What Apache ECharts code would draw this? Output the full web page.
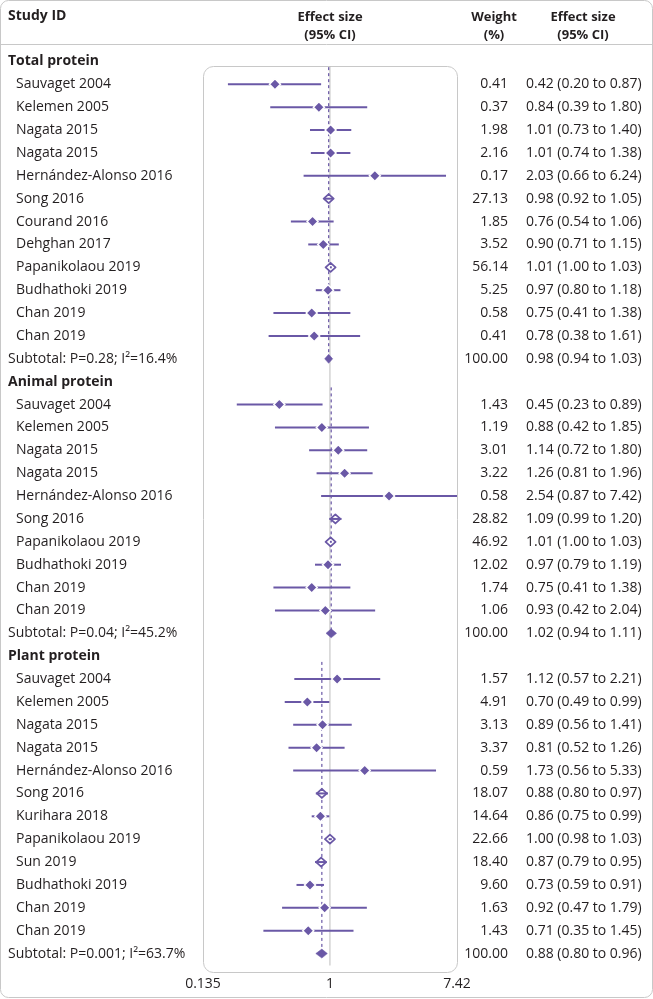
<!DOCTYPE html>
<html>
<head>
<meta charset="utf-8">
<title>Forest plot</title>
<script src="https://cdn.jsdelivr.net/npm/echarts@6/dist/echarts.min.js"></script>
<style>html,body{margin:0;padding:0;background:#fff}</style>
</head>
<body>
<div id="main" style="width:653px;height:999px;"></div>
<script>
// section titles
var sectionTitles = ['Total protein', 'Animal protein', 'Plant protein'];

// total protein
var totalStudies = ['Sauvaget 2004', 'Kelemen 2005', 'Nagata 2015', 'Nagata 2015', 'Hernández-Alonso 2016', 'Song 2016',
  'Courand 2016', 'Dehghan 2017', 'Papanikolaou 2019', 'Budhathoki 2019', 'Chan 2019', 'Chan 2019'];
var totalWeight = [0.41, 0.37, 1.98, 2.16, 0.17, 27.13, 1.85, 3.52, 56.14, 5.25, 0.58, 0.41];
var totalEst = [0.42, 0.84, 1.01, 1.01, 2.03, 0.98, 0.76, 0.90, 1.01, 0.97, 0.75, 0.78];
var totalLow = [0.20, 0.39, 0.73, 0.74, 0.66, 0.92, 0.54, 0.71, 1.00, 0.80, 0.41, 0.38];
var totalHigh = [0.87, 1.80, 1.40, 1.38, 6.24, 1.05, 1.06, 1.15, 1.03, 1.18, 1.38, 1.61];

// animal protein
var animalStudies = ['Sauvaget 2004', 'Kelemen 2005', 'Nagata 2015', 'Nagata 2015', 'Hernández-Alonso 2016', 'Song 2016',
  'Papanikolaou 2019', 'Budhathoki 2019', 'Chan 2019', 'Chan 2019'];
var animalWeight = [1.43, 1.19, 3.01, 3.22, 0.58, 28.82, 46.92, 12.02, 1.74, 1.06];
var animalEst = [0.45, 0.88, 1.14, 1.26, 2.54, 1.09, 1.01, 0.97, 0.75, 0.93];
var animalLow = [0.23, 0.42, 0.72, 0.81, 0.87, 0.99, 1.00, 0.79, 0.41, 0.42];
var animalHigh = [0.89, 1.85, 1.80, 1.96, 7.42, 1.20, 1.03, 1.19, 1.38, 2.04];

// plant protein
var plantStudies = ['Sauvaget 2004', 'Kelemen 2005', 'Nagata 2015', 'Nagata 2015', 'Hernández-Alonso 2016', 'Song 2016',
  'Kurihara 2018', 'Papanikolaou 2019', 'Sun 2019', 'Budhathoki 2019', 'Chan 2019', 'Chan 2019'];
var plantWeight = [1.57, 4.91, 3.13, 3.37, 0.59, 18.07, 14.64, 22.66, 18.40, 9.60, 1.63, 1.43];
var plantEst = [1.12, 0.70, 0.89, 0.81, 1.73, 0.88, 0.86, 1.00, 0.87, 0.73, 0.92, 0.71];
var plantLow = [0.57, 0.49, 0.56, 0.52, 0.56, 0.80, 0.75, 0.98, 0.79, 0.59, 0.47, 0.35];
var plantHigh = [2.21, 0.99, 1.41, 1.26, 5.33, 0.97, 0.99, 1.03, 0.95, 0.91, 1.79, 1.45];

// subtotals
var subtotalLabels = ['Subtotal: P=0.28; I²=16.4%', 'Subtotal: P=0.04; I²=45.2%', 'Subtotal: P=0.001; I²=63.7%'];
var subtotalWeight = [100, 100, 100];
var subtotalEst = [0.98, 1.02, 0.88];
var subtotalLow = [0.94, 0.94, 0.80];
var subtotalHigh = [1.03, 1.11, 0.96];

// x axis ticks
var tickValues = [0.135, 1, 7.42];
var tickLabels = ['0.135', '1', '7.42'];

var PURPLE = '#6a58a6';
var FONT = '"Open Sans", sans-serif';
var TXT = '#231f20';
var BODY = '14px ' + FONT;

var sections = [
  [totalStudies, totalWeight, totalEst, totalLow, totalHigh],
  [animalStudies, animalWeight, animalEst, animalLow, animalHigh],
  [plantStudies, plantWeight, plantEst, plantLow, plantHigh]
];

// flatten into rows
var rows = [];
var dashData = [];
sections.forEach(function (s, k) {
  var headRow = rows.length;
  rows.push({ type: 'head', label: sectionTitles[k] });
  s[0].forEach(function (name, i) {
    rows.push({ type: 'study', label: name, w: s[1][i], est: s[2][i], lo: s[3][i], hi: s[4][i] });
  });
  rows.push({ type: 'sub', label: subtotalLabels[k], w: subtotalWeight[k], est: subtotalEst[k], lo: subtotalLow[k], hi: subtotalHigh[k] });
  dashData.push([subtotalEst[k], headRow + 0.25, rows.length - 1]);
});
var nRows = rows.length;

function fmt(v) { return v.toFixed(2); }

var markData = rows.map(function (r, i) {
  return r.type === 'head' ? [1, i, 1, 1] : [r.est, i, r.lo, r.hi];
});

var chart = echarts.init(document.getElementById('main'));

chart.setOption({
  animation: false,
  graphic: [
    { type: 'rect', shape: { x: 0.5, y: 0.5, width: 652, height: 997, r: 8 },
      style: { fill: 'none', stroke: '#c8c8c8', lineWidth: 1 }, z: 0 },
    { type: 'line', shape: { x1: 0, y1: 44.5, x2: 653, y2: 44.5 }, style: { stroke: '#c8c8c8', lineWidth: 1 } },
    { type: 'rect', shape: { x: 203.5, y: 66.5, width: 254, height: 906, r: 10 },
      style: { fill: 'none', stroke: '#c8c8c8', lineWidth: 1 } },
    { type: 'text', x: 8, y: 9, style: { text: 'Study ID', font: 'bold 14px ' + FONT, fill: TXT } },
    { type: 'text', x: 330, y: 8, style: { text: 'Effect size\n(95% CI)', font: 'bold 13px ' + FONT, fill: TXT, align: 'center', lineHeight: 18 } },
    { type: 'text', x: 494, y: 8, style: { text: 'Weight\n(%)', font: 'bold 13px ' + FONT, fill: TXT, align: 'center', lineHeight: 18 } },
    { type: 'text', x: 583, y: 8, style: { text: 'Effect size\n(95% CI)', font: 'bold 13px ' + FONT, fill: TXT, align: 'center', lineHeight: 18 } }
  ],
  grid: { left: 203, width: 254, top: 50, height: 915 },
  xAxis: {
    type: 'log', logBase: Math.E, min: 0.135, max: 7.42,
    axisLine: { show: false }, axisTick: { show: false }, axisLabel: { show: false }, splitLine: { show: false }
  },
  yAxis: {
    type: 'value', min: -0.5, max: nRows - 0.5, inverse: true, show: false
  },
  series: [
    {
      // line of no effect
      type: 'line', symbol: 'none', silent: true, z: 1,
      lineStyle: { color: '#bdbdbd', width: 1 },
      data: [[1, 0.2], [1, nRows - 0.2]]
    },
    {
      // dashed subgroup estimate
      type: 'custom', z: 2, silent: true,
      data: dashData,
      renderItem: function (params, api) {
        var a = api.coord([api.value(0), api.value(1)]);
        var b = api.coord([api.value(0), api.value(2)]);
        return { type: 'line', shape: { x1: a[0], y1: a[1], x2: b[0], y2: b[1] },
          style: { stroke: PURPLE, lineWidth: 1.2, lineDash: [3, 3] } };
      }
    },
    {
      // study markers and confidence intervals
      type: 'custom', z: 3, silent: true,
      data: markData,
      renderItem: function (params, api) {
        var r = rows[params.dataIndex];
        if (r.type === 'head') return null;
        var c = api.coord([api.value(0), api.value(1)]);
        var lo = api.coord([api.value(2), api.value(1)]);
        var hi = api.coord([api.value(3), api.value(1)]);
        if (r.type === 'sub') {
          var hw = 4.5;
          var l = Math.min(lo[0], c[0] - 4), h = Math.max(hi[0], c[0] + 4);
          return { type: 'polygon', shape: { points: [[l, c[1]], [c[0], c[1] - hw], [h, c[1]], [c[0], c[1] + hw]] },
            style: { fill: PURPLE, stroke: PURPLE, lineWidth: 0.5 } };
        }
        var ciLine = { type: 'line', shape: { x1: lo[0], y1: lo[1], x2: hi[0], y2: hi[1] },
          style: { stroke: PURPLE, lineWidth: 2 } };
        var hollow = (hi[0] - lo[0]) < 14;
        if (hollow) {
          var sh = 5, sv = 4.5;
          return { type: 'group', children: [
            { type: 'polygon', shape: { points: [[c[0] - sh, c[1]], [c[0], c[1] - sv], [c[0] + sh, c[1]], [c[0], c[1] + sv]] },
              style: { fill: '#fff', stroke: PURPLE, lineWidth: 1.8, lineJoin: 'round' } },
            ciLine
          ] };
        }
        var s = 5.5;
        return { type: 'group', children: [
          ciLine,
          { type: 'polygon', shape: { points: [[c[0] - s, c[1]], [c[0], c[1] - s], [c[0] + s, c[1]], [c[0], c[1] + s]] },
            style: { fill: PURPLE, stroke: '#fff', lineWidth: 1.5 } }
        ] };
      }
    },
    {
      // table text
      type: 'custom', z: 4, silent: true,
      data: markData,
      renderItem: function (params, api) {
        var r = rows[params.dataIndex];
        var y = api.coord([1, api.value(1)])[1];
        var kids = [];
        var bold = r.type === 'head';
        kids.push({ type: 'text', x: r.type === 'study' ? 16 : 8, y: y,
          style: { text: r.label, font: (bold ? 'bold ' : '') + BODY, fill: TXT, verticalAlign: 'middle' } });
        if (r.type !== 'head') {
          kids.push({ type: 'text', x: 508, y: y,
            style: { text: fmt(r.w), font: BODY, fill: TXT, align: 'right', verticalAlign: 'middle' } });
          kids.push({ type: 'text', x: 526, y: y,
            style: { text: fmt(r.est) + ' (' + fmt(r.lo) + ' to ' + fmt(r.hi) + ')', font: BODY, fill: TXT, verticalAlign: 'middle' } });
        }
        return { type: 'group', children: kids };
      }
    },
    {
      // axis tick labels
      type: 'custom', z: 4, silent: true,
      data: tickValues.map(function (v, i) { return [v, nRows - 0.5, i]; }),
      renderItem: function (params, api) {
        var p = api.coord([api.value(0), api.value(1)]);
        return { type: 'text', x: p[0], y: p[1] + 19,
          style: { text: tickLabels[params.dataIndex], font: BODY, fill: TXT, align: 'center', verticalAlign: 'middle' } };
      }
    }
  ]
});
</script>
</body>
</html>
